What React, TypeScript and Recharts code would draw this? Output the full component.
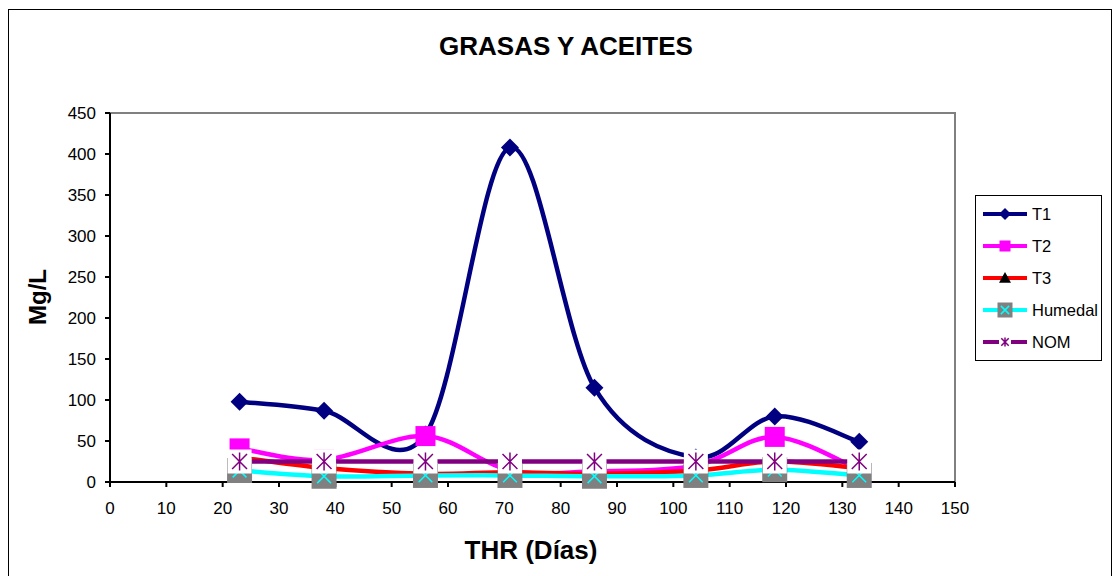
import React from "react";
import { Legend, Line, LineChart, ReferenceArea, XAxis, YAxis } from "recharts";

// Días de THR en que se tomaron las muestras
const days = [23, 38, 56, 71, 86, 104, 118, 133];

// Grasas y aceites (mg/L) por tratamiento
const t1 = [98, 87, 58, 408, 115, 30, 80, 49];
const t2 = [41, 27, 56, 14, 13, 20, 55, 15];
const t3 = [30, 17, 10, 12, 10, 14, 25, 17];
const humedal = [14, 7, 8, 8, 7, 8, 15, 8];
const nom = [25, 25, 25, 25, 25, 25, 25, 25];

const xTicks = [0, 10, 20, 30, 40, 50, 60, 70, 80, 90, 100, 110, 120, 130, 140, 150];
const yTicks = [0, 50, 100, 150, 200, 250, 300, 350, 400, 450];

const data = days.map((day, i) => ({
  day,
  T1: t1[i],
  T2: t2[i],
  T3: t3[i],
  Humedal: humedal[i],
  NOM: nom[i],
}));

const FONT = "'Liberation Sans', Arial, sans-serif";

// Excel-style smoothed line (uniform Catmull-Rom as cubic Béziers)
const smoothCurve = (context: any) => {
  let xs: number[] = [];
  let ys: number[] = [];
  return {
    areaStart() {},
    areaEnd() {},
    lineStart() {
      xs = [];
      ys = [];
    },
    point(x: number, y: number) {
      xs.push(+x);
      ys.push(+y);
    },
    lineEnd() {
      const n = xs.length;
      if (!n) return;
      context.moveTo(xs[0], ys[0]);
      for (let i = 0; i < n - 1; i++) {
        const a = Math.max(i - 1, 0);
        const d = Math.min(i + 2, n - 1);
        context.bezierCurveTo(
          xs[i] + (xs[i + 1] - xs[a]) / 6,
          ys[i] + (ys[i + 1] - ys[a]) / 6,
          xs[i + 1] - (xs[d] - xs[i]) / 6,
          ys[i + 1] - (ys[d] - ys[i]) / 6,
          xs[i + 1],
          ys[i + 1]
        );
      }
    },
  };
};

type MarkerProps = { cx: number; cy: number; s: number };

const Diamond = ({ cx, cy, s }: MarkerProps) => (
  <path d={`M${cx},${cy - s}L${cx + s},${cy}L${cx},${cy + s}L${cx - s},${cy}Z`} fill="#000080" />
);

const Square = ({ cx, cy, s }: MarkerProps) => (
  <rect x={cx - s} y={cy - s} width={s * 2} height={s * 2} fill="#FF00FF" />
);

const Triangle = ({ cx, cy, s }: MarkerProps) => (
  <path d={`M${cx},${cy - s}L${cx + s},${cy + s * 0.8}L${cx - s},${cy + s * 0.8}Z`} fill="#000" />
);

const GrayX = ({ cx, cy, s }: MarkerProps) => {
  const k = s * 0.55;
  return (
    <g>
      <rect x={cx - s} y={cy - s} width={s * 2} height={s * 2} fill="#808080" />
      <path d={`M${cx - k},${cy - k}L${cx + k},${cy + k}M${cx + k},${cy - k}L${cx - k},${cy + k}`} stroke="#00FFFF" strokeWidth={1.5} />
    </g>
  );
};

const Star = ({ cx, cy, s }: MarkerProps) => {
  const k = s * 0.62;
  const h = s * 0.75;
  return (
    <g>
      <rect x={cx - s} y={cy - s} width={s * 2} height={s * 2} fill="#fff" />
      <path
        d={`M${cx - k},${cy - k}L${cx + k},${cy + k}M${cx + k},${cy - k}L${cx - k},${cy + k}M${cx},${cy - h}L${cx},${cy + h}`}
        stroke="#800080"
        strokeWidth={1.5}
      />
    </g>
  );
};

const series = [
  { key: "T1", color: "#000080", Marker: Diamond, size: 9, legendSize: 6 },
  { key: "T2", color: "#FF00FF", Marker: Square, size: 10, legendSize: 5.5 },
  { key: "T3", color: "#FF0000", Marker: Triangle, size: 8, legendSize: 6 },
  { key: "Humedal", color: "#00FFFF", Marker: GrayX, size: 12.5, legendSize: 7.5 },
  { key: "NOM", color: "#800080", Marker: Star, size: 12, legendSize: 6 },
];

const renderLegend = () => (
  <div
    style={{
      width: 127,
      height: 166,
      border: "1px solid #000",
      background: "#fff",
      fontFamily: FONT,
      fontSize: 16.5,
      paddingTop: 2,
      boxSizing: "border-box",
    }}
  >
    {series.map(({ key, color, Marker, legendSize }) => (
      <div key={key} style={{ display: "flex", alignItems: "center", height: 32 }}>
        <svg width={56} height={20} style={{ flex: "none" }}>
          <line x1={7} y1={10} x2={51} y2={10} stroke={color} strokeWidth={4} />
          <Marker cx={29} cy={10} s={legendSize} />
        </svg>
        <span style={{ color: "#000" }}>{key}</span>
      </div>
    ))}
  </div>
);

const titleStyle = {
  position: "absolute" as const,
  fontWeight: "bold" as const,
  whiteSpace: "nowrap" as const,
};

export default function App() {
  return (
    <div
      style={{
        position: "relative",
        width: 1102,
        height: 580,
        border: "1px solid #000",
        marginTop: 1,
        background: "#fff",
        fontFamily: FONT,
      }}
    >
      <div style={{ ...titleStyle, left: 557, top: 23, transform: "translateX(-50%)", fontSize: 26, lineHeight: "26px" }}>
        GRASAS Y ACEITES
      </div>
      <div
        style={{
          ...titleStyle,
          left: 29,
          top: 287,
          transform: "translate(-50%, -50%) rotate(-90deg)",
          fontSize: 24,
          lineHeight: "24px",
        }}
      >
        Mg/L
      </div>
      <div style={{ ...titleStyle, left: 522, top: 527, transform: "translateX(-50%)", fontSize: 26, lineHeight: "26px" }}>
        THR (Días)
      </div>
      <LineChart width={1102} height={570} data={data} margin={{ top: 103, right: 156, left: 41, bottom: 38 }}>
        <ReferenceArea x1={0} x2={150} y1={0} y2={450} fill="none" stroke="#808080" strokeWidth={2} ifOverflow="visible" />
        <XAxis
          type="number"
          dataKey="day"
          domain={[0, 150]}
          ticks={xTicks}
          interval={0}
          height={60}
          tickSize={5}
          tickMargin={15}
          stroke="#000"
          strokeWidth={2}
          tick={{ fill: "#000", fontSize: 17, fontFamily: FONT }}
        />
        <YAxis
          type="number"
          domain={[0, 450]}
          ticks={yTicks}
          interval={0}
          width={60}
          tickSize={5}
          tickMargin={9}
          stroke="#000"
          strokeWidth={2}
          tick={{ fill: "#000", fontSize: 17, fontFamily: FONT }}
        />
        <Legend
          layout="vertical"
          align="center"
          verticalAlign="middle"
          wrapperStyle={{ left: 966, top: 185, width: 127 }}
          content={renderLegend}
        />
        {series.map(({ key, color, Marker, size }) => (
          <Line
            key={key}
            dataKey={key}
            type={smoothCurve as any}
            stroke={color}
            strokeWidth={4.5}
            isAnimationActive={false}
            dot={(p: any) => <Marker key={`${key}-${p.index}`} cx={p.cx} cy={p.cy} s={size} />}
            activeDot={false}
          />
        ))}
      </LineChart>
    </div>
  );
}
